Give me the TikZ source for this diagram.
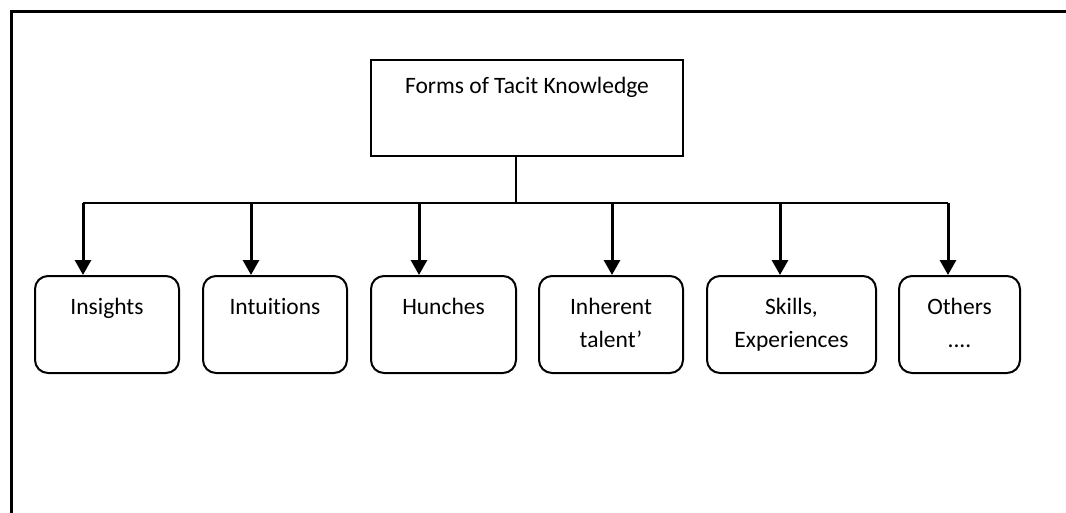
\documentclass[tikz,border=0pt]{standalone}
\usepackage{fontspec}
\setmainfont{Carlito}[RawFeature=-liga]
\usetikzlibrary{arrows.meta}
\begin{document}
\begin{tikzpicture}[x=1pt,y=-1pt,
  frame/.style={line width=3pt},
  mainbox/.style={draw, line width=2pt, minimum width=312pt, minimum height=96pt, inner sep=0pt},
  itembox/.style={draw, line width=2pt, rounded corners=13pt, minimum height=97pt, inner sep=0pt},
  lbl/.style={font=\fontsize{23.5}{33}\selectfont, align=center, anchor=base, inner sep=0pt},
  bus/.style={line width=2pt},
  arr/.style={line width=3pt, -{Triangle[width=16pt,length=15pt]}}]
\useasboundingbox (0,0) rectangle (1066,512);
% outer frame (top and left edges visible)
\coordinate (fbl) at (11,514);
\coordinate (ftl) at (11,11);
\coordinate (ftr) at (1068,11);
\draw[frame] (fbl) -- (ftl) -- (ftr);
% main box
\node[mainbox] (main) at (527,108) {};
\node[lbl] (maintxt) at (527,93) {Forms of Tacit Knowledge};
% item boxes
\node[itembox, minimum width=144pt] (ins) at (107,324.5) {};
\node[itembox, minimum width=144pt] (int) at (275,324.5) {};
\node[itembox, minimum width=145pt] (hun) at (443.5,324.5) {};
\node[itembox, minimum width=144pt] (inh) at (611,324.5) {};
\node[itembox, minimum width=169pt] (ski) at (791.5,324.5) {};
\node[itembox, minimum width=121pt] (oth) at (959.5,324.5) {};
\node[lbl] (instxt) at (107,314) {Insights};
\node[lbl] (inttxt) at (275,314) {Intuitions};
\node[lbl] (huntxt) at (443.5,314) {Hunches};
\node[lbl] (inhtxt) at (611,347) {Inherent\\talent’};
\node[lbl] (skitxt) at (791.5,347) {Skills,\\Experiences};
\node[lbl] (othtxt) at (959.5,347) {Others\\....};
% bus
\coordinate (j) at (516,203);
\coordinate (b1) at (83,203);
\coordinate (b2) at (251,203);
\coordinate (b3) at (419,203);
\coordinate (b4) at (612,203);
\coordinate (b5) at (780,203);
\coordinate (b6) at (948,203);
\draw[bus] (main.south -| j) -- (j);
\draw[bus] (b1) -- (b6);
\draw[arr] (b1) -- (ins.north -| b1);
\draw[arr] (b2) -- (int.north -| b2);
\draw[arr] (b3) -- (hun.north -| b3);
\draw[arr] (b4) -- (inh.north -| b4);
\draw[arr] (b5) -- (ski.north -| b5);
\draw[arr] (b6) -- (oth.north -| b6);
\end{tikzpicture}
\end{document}
